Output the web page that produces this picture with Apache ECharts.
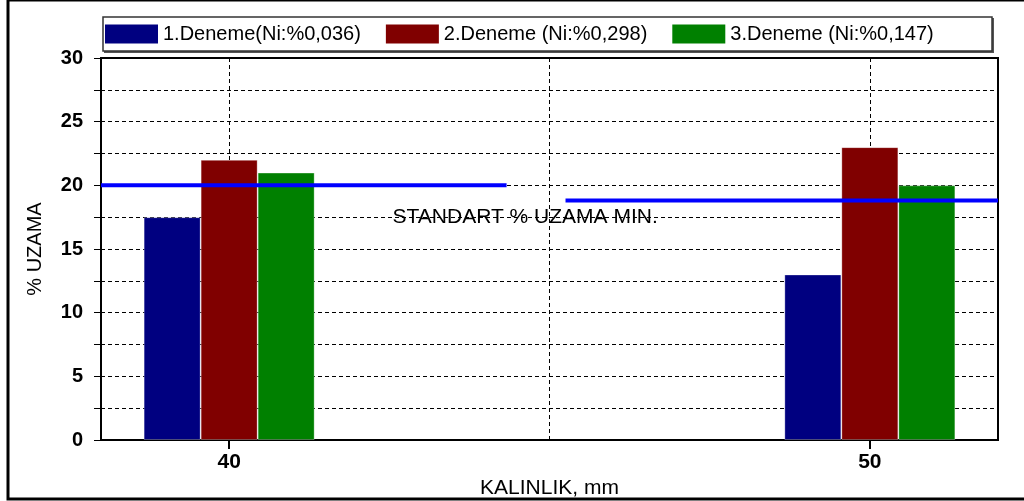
<!DOCTYPE html>
<html>
<head>
<meta charset="utf-8">
<script src="https://cdn.jsdelivr.net/npm/echarts@6/dist/echarts.min.js"></script>
<style>
  html, body { margin: 0; padding: 0; background: #fff; }
  #chart { width: 1024px; height: 501px; }
</style>
</head>
<body>
<div id="chart"></div>
<script>
// Elongation (%) by plate thickness (mm) for three trial melts
const thicknessValues = [40, 50];
const seriesNames = ['1.Deneme(Ni:%0,036)', '2.Deneme (Ni:%0,298)', '3.Deneme (Ni:%0,147)'];
const deneme1 = [17.5, 13];
const deneme2 = [22, 23];
const deneme3 = [21, 20];
const seriesColors = ['#000080', '#800000', '#008000'];

// Minimum elongation standard, drawn as two horizontal segments
const standardLeftX = [38, 44.33];
const standardLeftY = 20;
const standardRightX = [45.25, 52];
const standardRightY = 18.8;
const standardLabel = 'STANDART % UZAMA MIN.';
const standardLabelAt = [44.62, 17.46];

// Axis ticks
const xRange = [38, 52];
const xGridValues = [40, 45, 50];
const xLabelValues = [40, 50];
const yRange = [0, 30];
const yStep = 2.5;

const FONT = '"Liberation Sans", Arial, sans-serif';

const valueSeries = [deneme1, deneme2, deneme3];

const chart = echarts.init(document.getElementById('chart'), null, { renderer: 'canvas' });

const barSeries = valueSeries.map((vals, i) => ({
  name: seriesNames[i],
  type: 'bar',
  data: thicknessValues.map((t, j) => [t, vals[j]]),
  barWidth: 57,
  barGap: '0%',
  z: 2,
  itemStyle: { color: seriesColors[i], borderColor: 'rgba(255,255,255,0.3)', borderWidth: 1 }
}));

const option = {
  animation: false,
  backgroundColor: '#fff',
  textStyle: { fontFamily: FONT },
  graphic: [
    // outer frame
    { type: 'rect', silent: true, z: 100, shape: { x: 8, y: 0, width: 1040, height: 499 },
      style: { fill: 'none', stroke: '#000', lineWidth: 3 } },
    // legend box with a dark drop edge
    { type: 'rect', silent: true, z: -1, shape: { x: 104, y: 18, width: 890, height: 35 },
      style: { fill: '#555' } },
    { type: 'rect', silent: true, z: 0, shape: { x: 103, y: 17, width: 889, height: 34 },
      style: { fill: '#fff', stroke: '#333', lineWidth: 1.5 } }
  ],
  legend: {
    data: seriesNames,
    left: 105,
    top: 24,
    padding: 0,
    icon: 'rect',
    itemWidth: 53,
    itemHeight: 19,
    itemGap: 25,
    itemStyle: { borderWidth: 0 },
    textStyle: { fontFamily: FONT, fontSize: 20, color: '#000' }
  },
  grid: {
    left: 101, right: 26, top: 58, bottom: 61,
    outerBoundsMode: 'none',
    containLabel: false,
    show: true, borderColor: '#000', borderWidth: 2, backgroundColor: 'transparent'
  },
  xAxis: {
    type: 'value',
    min: xRange[0],
    max: xRange[1],
    name: 'KALINLIK, mm',
    nameLocation: 'middle',
    nameGap: 27,
    nameTextStyle: { fontFamily: FONT, fontSize: 21, color: '#000' },
    axisLine: { lineStyle: { color: '#000', width: 2 } },
    axisTick: { show: true, customValues: xLabelValues, length: 9, lineStyle: { color: '#000', width: 2 } },
    axisLabel: {
      customValues: xLabelValues,
      margin: 12,
      fontFamily: FONT, fontSize: 21, fontWeight: 'bold', color: '#000'
    },
    splitLine: { show: false }
  },
  yAxis: {
    type: 'value',
    min: yRange[0],
    max: yRange[1],
    interval: yStep,
    name: '% UZAMA',
    nameLocation: 'middle',
    nameRotate: 90,
    nameGap: 56,
    nameTextStyle: { fontFamily: FONT, fontSize: 20, color: '#000' },
    axisLine: { show: true, lineStyle: { color: '#000', width: 1.5 } },
    axisTick: { show: true, length: 7, lineStyle: { color: '#000', width: 1 } },
    axisLabel: {
      margin: 18,
      fontFamily: FONT, fontSize: 20, fontWeight: 'bold', color: '#000',
      formatter: v => (v % 5 === 0 ? String(v) : '')
    },
    splitLine: { show: true, lineStyle: { color: '#000', width: 1, type: [4, 3] } }
  },
  series: [
    ...barSeries,
    {
      name: 'stdLeft',
      type: 'line',
      data: standardLeftX.map(x => [x, standardLeftY]),
      symbol: 'none',
      z: 3,
      lineStyle: { color: '#0000ff', width: 4 },
      // vertical grid lines at the thickness ticks
      markLine: {
        silent: true,
        z: 1,
        symbol: 'none',
        label: { show: false },
        lineStyle: { color: '#000', width: 1, type: [4, 3] },
        data: xGridValues.map(x => ({ xAxis: x }))
      }
    },
    {
      name: 'stdRight',
      type: 'line',
      data: standardRightX.map(x => [x, standardRightY]),
      symbol: 'none',
      z: 3,
      lineStyle: { color: '#0000ff', width: 4 }
    },
    {
      name: 'stdLabel',
      type: 'scatter',
      data: [standardLabelAt],
      symbol: 'rect',
      symbolSize: 1,
      itemStyle: { color: 'transparent', opacity: 1 },
      silent: true,
      z: 4,
      label: {
        show: true,
        position: 'inside',
        formatter: standardLabel,
        fontFamily: FONT, fontSize: 21, color: '#000',
        textBorderWidth: 0, opacity: 1
      }
    }
  ]
};

chart.setOption(option);
</script>
</body>
</html>
